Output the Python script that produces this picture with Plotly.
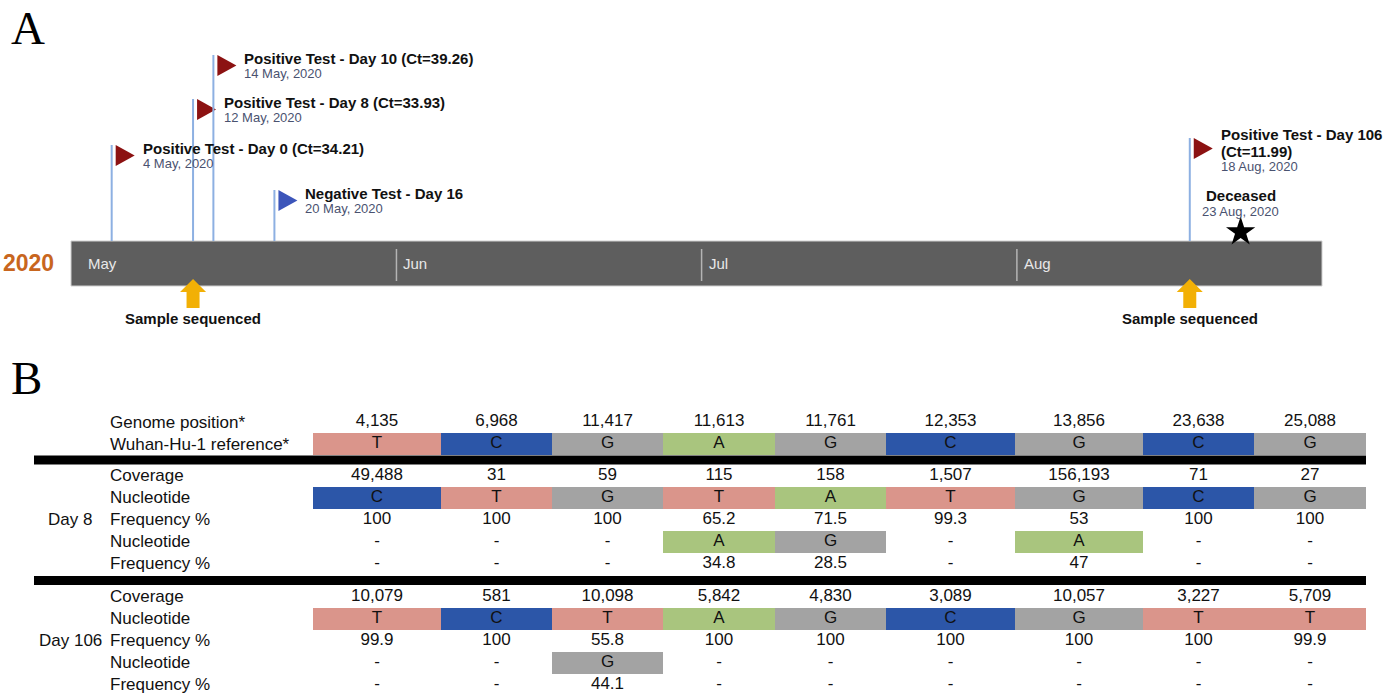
import plotly.graph_objects as go
import pandas as pd

# ---------------- Panel A data (timeline) ----------------
event_dates = ["2020-05-04", "2020-05-12", "2020-05-14", "2020-05-20", "2020-08-18"]
event_titles = ["Positive Test - Day 0 (Ct=34.21)",
                "Positive Test - Day 8 (Ct=33.93)",
                "Positive Test - Day 10 (Ct=39.26)",
                "Negative Test - Day 16",
                "Positive Test - Day 106|(Ct=11.99)"]
event_results = ["Positive", "Positive", "Positive", "Negative", "Positive"]
death_label = "Deceased"
death_date = "2020-08-23"
sequenced_label = "Sample sequenced"
sequenced_dates = ["2020-05-12", "2020-08-18"]
month_starts = ["2020-05-01", "2020-06-01", "2020-07-01", "2020-08-01"]
month_labels = ["May", "Jun", "Jul", "Aug"]
year_label = "2020"

# ---------------- Panel B data (variant table) ----------------
genome_positions = [4135, 6968, 11417, 11613, 11761, 12353, 13856, 23638, 25088]
reference_nt = ["T", "C", "G", "A", "G", "C", "G", "C", "G"]
day8_coverage = [49488, 31, 59, 115, 158, 1507, 156193, 71, 27]
day8_nt1 = ["C", "T", "G", "T", "A", "T", "G", "C", "G"]
day8_freq1 = [100, 100, 100, 65.2, 71.5, 99.3, 53, 100, 100]
day8_nt2 = [None, None, None, "A", "G", None, "A", None, None]
day8_freq2 = [None, None, None, 34.8, 28.5, None, 47, None, None]
day106_coverage = [10079, 581, 10098, 5842, 4830, 3089, 10057, 3227, 5709]
day106_nt1 = ["T", "C", "T", "A", "G", "C", "G", "T", "T"]
day106_freq1 = [99.9, 100, 55.8, 100, 100, 100, 100, 100, 99.9]
day106_nt2 = [None, None, "G", None, None, None, None, None, None]
day106_freq2 = [None, None, 44.1, None, None, None, None, None, None]

# ---------------- layout / style ----------------
W, H = 1398, 697


def px_x(x):
    return x / W


def px_y(y):
    return 1 - y / H


SANS = "Liberation Sans, Arial, Helvetica, sans-serif"
SERIF = "Liberation Serif, Times New Roman, serif"
TEXT = "#111111"
DATE_COLOR = "#4a5270"
result_colors = {"Positive": "#8c1212", "Negative": "#3c55ba"}
nt_colors = {"T": "#da958b", "C": "#2c56a8", "G": "#a3a3a3", "A": "#a9c57e"}

BAR_LEFT, BAR_RIGHT = 71, 1322          # timeline bar pixel extent
BAR_TOP, BAR_BOTTOM = 241, 286
flag_top_px = [145, 99, 55, 190, 138]   # stagger of the flags

col_widths = [128, 111, 111, 112, 111, 129, 128, 111, 112]
TABLE_LEFT, TABLE_TOP = 313, 400
ROW_PX = 22

fig = go.Figure()

# ---------------- Panel A ----------------
fig.add_shape(type="rect", xref="x domain", yref="y", x0=0, x1=1, y0=BAR_TOP, y1=BAR_BOTTOM,
              fillcolor="#5e5e5e", line=dict(color="#cfcfcf", width=1), layer="below")
for i, (m, lab) in enumerate(zip(month_starts, month_labels)):
    if i > 0:
        fig.add_shape(type="line", xref="x", yref="y", x0=m, x1=m, y0=249, y1=281,
                      line=dict(color="#b4b4b4", width=1.5))
    fig.add_annotation(x=m, y=(BAR_TOP + BAR_BOTTOM) / 2, xref="x", yref="y", text=lab,
                       showarrow=False, xanchor="left", yanchor="middle", xshift=5,
                       font=dict(family=SANS, size=15, color="#e8e8e8"))
fig.add_annotation(x=0, y=(BAR_TOP + BAR_BOTTOM) / 2 - 1, xref="x domain", yref="y",
                   text=f"<b>{year_label}</b>", showarrow=False, xanchor="right",
                   yanchor="middle", xshift=-15,
                   font=dict(family=SANS, size=23, color="#c8661e"))

for d, title, res, ftop in zip(event_dates, event_titles, event_results, flag_top_px):
    fig.add_shape(type="line", xref="x", yref="y", x0=d, x1=d, y0=ftop, y1=BAR_TOP,
                  line=dict(color="#8db0e2", width=2))
    fig.add_shape(type="path", xref="x", yref="y", xsizemode="pixel", ysizemode="pixel",
                  xanchor=d, yanchor=ftop, path="M4,0 L23,-10.5 L4,-21 Z",
                  fillcolor=result_colors[res], line=dict(width=0))
    lines = title.split("|")
    n = len(lines)
    date_y = ftop + 18.5 + 9.5 * (n - 1)
    for i, ln in enumerate(lines):
        fig.add_annotation(x=d, y=date_y - 15 - 17 * (n - 1 - i), xref="x", yref="y",
                           text=f"<b>{ln}</b>", showarrow=False, xanchor="left",
                           yanchor="middle", xshift=29,
                           font=dict(family=SANS, size=15, color=TEXT))
    ts = pd.Timestamp(d)
    fig.add_annotation(x=d, y=date_y, xref="x", yref="y", text=f"{ts.day} {ts:%b}, {ts.year}",
                       showarrow=False, xanchor="left", yanchor="middle", xshift=29,
                       font=dict(family=SANS, size=13, color=DATE_COLOR))

ts = pd.Timestamp(death_date)
fig.add_annotation(x=death_date, y=195, xref="x", yref="y", text=f"<b>{death_label}</b>",
                   showarrow=False, xanchor="center", yanchor="middle",
                   font=dict(family=SANS, size=15, color=TEXT))
fig.add_annotation(x=death_date, y=211, xref="x", yref="y", text=f"{ts.day} {ts:%b}, {ts.year}",
                   showarrow=False, xanchor="center", yanchor="middle",
                   font=dict(family=SANS, size=13, color=DATE_COLOR))
fig.add_trace(go.Scatter(x=[death_date], y=[232], mode="markers", xaxis="x", yaxis="y",
                         marker=dict(symbol="star", size=22, color="black"),
                         showlegend=False, hoverinfo="skip"))

for d in sequenced_dates:
    fig.add_shape(type="path", xref="x", yref="y", xsizemode="pixel", ysizemode="pixel",
                  xanchor=d, yanchor=279,
                  path="M0,0 L13,-13 L6.5,-13 L6.5,-29 L-6.5,-29 L-6.5,-13 L-13,-13 Z",
                  fillcolor="#f2b005", line=dict(width=0))
    fig.add_annotation(x=d, y=318, xref="x", yref="y", text=f"<b>{sequenced_label}</b>",
                       showarrow=False, xanchor="center", yanchor="middle",
                       font=dict(family=SANS, size=15, color=TEXT))

fig.add_annotation(x=px_x(9), y=px_y(28), xref="paper", yref="paper", text="A", showarrow=False,
                   xanchor="left", yanchor="middle",
                   font=dict(family=SERIF, size=47, color="black"))
fig.add_annotation(x=px_x(9), y=px_y(378), xref="paper", yref="paper", text="B", showarrow=False,
                   xanchor="left", yanchor="middle",
                   font=dict(family=SERIF, size=47, color="black"))

# ---------------- Panel B ----------------
def fmt_num(v):
    return "-" if v is None else f"{v:,}"


def fmt_pct(v):
    return "-" if v is None else f"{v:g}"


def fmt_nt(v):
    return "-" if v is None else v


sections = [
    (None, [("Genome position*", "num", genome_positions),
            ("Wuhan-Hu-1 reference*", "nt", reference_nt)]),
    ("Day 8", [("Coverage", "num", day8_coverage), ("Nucleotide", "nt", day8_nt1),
               ("Frequency %", "pct", day8_freq1), ("Nucleotide", "nt", day8_nt2),
               ("Frequency %", "pct", day8_freq2)]),
    ("Day 106", [("Coverage", "num", day106_coverage), ("Nucleotide", "nt", day106_nt1),
                 ("Frequency %", "pct", day106_freq1), ("Nucleotide", "nt", day106_nt2),
                 ("Frequency %", "pct", day106_freq2)]),
]
section_gaps = [0.0, 0.45, 0.5]

col_centers = []
acc = 0
for w in col_widths:
    col_centers.append(acc + w / 2)
    acc += w
table_width = acc

y = 0.0
prev_end = None
for (group, rows), gap in zip(sections, section_gaps):
    y += gap
    if prev_end is not None:
        sep = prev_end + 0.5 + gap / 2
        fig.add_shape(type="rect", xref="paper", yref="y2", x0=px_x(34), x1=px_x(1366),
                      y0=sep - 0.205, y1=sep + 0.205, fillcolor="black", line=dict(width=0))
    for ri, (label, kind, values) in enumerate(rows):
        fmt = {"num": fmt_num, "pct": fmt_pct, "nt": fmt_nt}[kind]
        if kind == "nt":
            xs = [c for c, v in zip(col_centers, values) if v is not None]
            ws = [w for w, v in zip(col_widths, values) if v is not None]
            cs = [nt_colors[v] for v in values if v is not None]
            fig.add_trace(go.Bar(x=xs, y=[1] * len(xs), base=[y - 0.5] * len(xs), width=ws,
                                 marker=dict(color=cs, line=dict(width=0)),
                                 xaxis="x2", yaxis="y2", showlegend=False, hoverinfo="skip"))
        fig.add_trace(go.Scatter(x=col_centers, y=[y] * len(values), mode="text",
                                 text=[fmt(v) for v in values], textposition="middle center",
                                 textfont=dict(family=SANS, size=17, color=TEXT),
                                 xaxis="x2", yaxis="y2", showlegend=False, hoverinfo="skip"))
        fig.add_annotation(x=px_x(108), y=y, xref="paper", yref="y2", text=label,
                           showarrow=False, xanchor="left", yanchor="middle",
                           font=dict(family=SANS, size=17, color=TEXT))
        if group is not None and ri == 2:
            fig.add_annotation(x=px_x(70), y=y, xref="paper", yref="y2", text=group,
                               showarrow=False, xanchor="center", yanchor="middle",
                               font=dict(family=SANS, size=17, color=TEXT))
        y += 1
    prev_end = y - 1

axis_off = dict(visible=False, showgrid=False, zeroline=False, fixedrange=True)
fig.update_layout(
    width=W, height=H,
    margin=dict(l=0, r=0, t=0, b=0),
    paper_bgcolor="white", plot_bgcolor="rgba(0,0,0,0)",
    showlegend=False, hovermode=False, barmode="overlay", bargap=0,
    xaxis=dict(type="date", domain=[px_x(BAR_LEFT), px_x(BAR_RIGHT)],
               range=["2020-04-30", "2020-08-31"], **axis_off),
    yaxis=dict(domain=[0, 1], range=[H, 0], anchor="x", **axis_off),
    xaxis2=dict(domain=[px_x(TABLE_LEFT), px_x(TABLE_LEFT + table_width)],
                range=[0, table_width], anchor="y2", **axis_off),
    yaxis2=dict(domain=[0, px_y(TABLE_TOP)],
                range=[(H - TABLE_TOP) / ROW_PX - 1, -1], anchor="x2", **axis_off),
)

# remove the default page margin so the figure fills the browser window exactly
fig.write_html("out.html",
               config={"displayModeBar": False, "staticPlot": True},
               post_script="document.body.style.margin='0px';document.body.style.overflow='hidden';")
